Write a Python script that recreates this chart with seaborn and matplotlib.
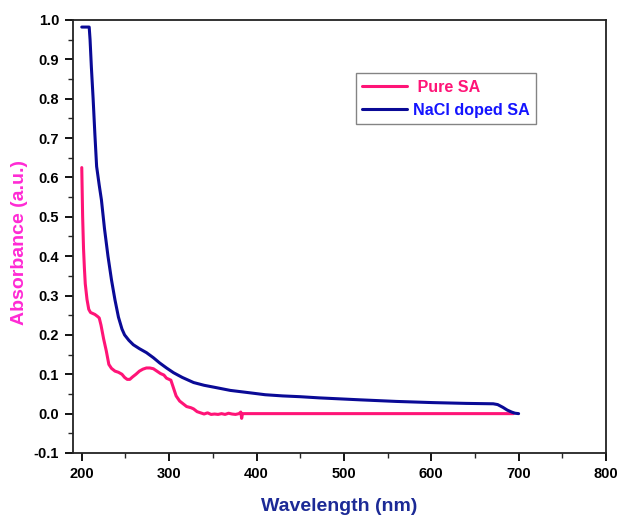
import matplotlib
matplotlib.use("Agg")
import matplotlib.pyplot as plt
from matplotlib.ticker import MultipleLocator, FormatStrFormatter
import seaborn as sns
import pandas as pd

# UV-Vis absorbance spectra
wl_pure = [200, 201, 202, 203, 204, 206, 208, 210, 212, 215, 218, 220, 222, 225, 228, 231,
           234, 238, 242, 246, 249, 252, 255, 258, 262, 266, 270, 274, 278, 282, 286, 290,
           294, 297, 300, 302, 305, 308, 312, 316, 320, 325, 328, 332, 336, 340, 344, 348,
           352, 356, 360, 364, 368, 372, 376, 380, 382, 383, 384, 390, 450, 550, 650, 694]
abs_pure = [0.625, 0.50, 0.42, 0.37, 0.33, 0.29, 0.265, 0.257, 0.255, 0.252, 0.247, 0.243,
            0.225, 0.19, 0.16, 0.125, 0.115, 0.108, 0.105, 0.100, 0.092, 0.087, 0.087, 0.093,
            0.100, 0.108, 0.113, 0.116, 0.116, 0.114, 0.108, 0.102, 0.098, 0.090, 0.087, 0.085,
            0.065, 0.045, 0.032, 0.025, 0.018, 0.015, 0.012, 0.005, 0.002, -0.001, 0.002,
            -0.002, -0.001, -0.002, 0.000, -0.002, 0.001, -0.001, -0.002, 0.000, 0.004,
            -0.012, 0.000, 0.0, 0.0, 0.0, 0.0, 0.0]

wl_nacl = [200, 208.5, 209.5, 211, 213, 215, 217, 220, 222.5, 226, 230, 234, 238, 242, 246,
           249, 254, 259, 266, 274, 282, 289, 297, 305, 315, 328, 340, 354, 370, 392, 410,
           430, 450, 472, 519, 560, 602, 640, 671, 676, 682, 687, 692, 696, 700]
abs_nacl = [0.982, 0.982, 0.95, 0.88, 0.80, 0.71, 0.628, 0.58, 0.543, 0.47, 0.40, 0.34,
            0.289, 0.245, 0.215, 0.200, 0.186, 0.175, 0.165, 0.155, 0.142, 0.129, 0.116,
            0.104, 0.092, 0.079, 0.072, 0.066, 0.059, 0.053, 0.048, 0.045, 0.043, 0.040,
            0.035, 0.031, 0.028, 0.026, 0.025, 0.023, 0.016, 0.009, 0.004, 0.001, 0.0]

series_names = ["Pure SA", "NaCl doped SA"]
line_colors = ["#ff1477", "#0a0a96"]
text_colors = ["#ff1477", "#1414ff"]

df = pd.concat([
    pd.DataFrame({"Wavelength": wl_pure, "Absorbance": abs_pure, "Sample": series_names[0]}),
    pd.DataFrame({"Wavelength": wl_nacl, "Absorbance": abs_nacl, "Sample": series_names[1]}),
])

sns.set_style("ticks")
plt.rcParams["font.family"] = ["Liberation Sans", "DejaVu Sans"]
plt.rcParams["font.weight"] = "bold"

fig = plt.figure(figsize=(6.21, 5.15), dpi=100)
ax = fig.add_axes([0.1176, 0.1204, 0.8582, 0.8408])

sns.lineplot(data=df, x="Wavelength", y="Absorbance", hue="Sample",
             palette=dict(zip(series_names, line_colors)), linewidth=2.2,
             sort=False, estimator=None, ax=ax)

ax.set_xlim(190, 800)
ax.set_ylim(-0.1, 1.0)
ax.xaxis.set_major_locator(MultipleLocator(100))
ax.xaxis.set_minor_locator(MultipleLocator(50))
ax.yaxis.set_major_locator(MultipleLocator(0.1))
ax.yaxis.set_minor_locator(MultipleLocator(0.05))
ax.yaxis.set_major_formatter(FormatStrFormatter("%.1f"))

ax.tick_params(axis="both", which="major", direction="out", length=6, width=1.3,
               labelsize=10.5, colors="black", pad=4)
ax.tick_params(axis="both", which="minor", direction="out", length=3.5, width=1.0)
for lbl in ax.get_xticklabels() + ax.get_yticklabels():
    lbl.set_fontweight("bold")
for sp in ax.spines.values():
    sp.set_linewidth(1.3)
    sp.set_color("#222222")

ax.set_xlabel("Wavelength (nm)", fontsize=14, fontweight="bold", color="#1c2a96")
ax.set_ylabel("Absorbance (a.u.)", fontsize=14, fontweight="bold", color="#ff2ad4")
ax.xaxis.set_label_coords(0.5, -0.105)
ax.yaxis.set_label_coords(-0.085, 0.485)

handles, labels = ax.get_legend_handles_labels()
leg = ax.legend(handles, [" " + series_names[0], series_names[1]], loc="upper left",
                bbox_to_anchor=(0.531, 0.877), frameon=True, fancybox=False,
                edgecolor="#666666", fontsize=11.6, handlelength=2.75, handletextpad=0.4,
                borderpad=0.4, labelspacing=0.5, borderaxespad=0)
leg.get_frame().set_linewidth(1.0)
for txt, c in zip(leg.get_texts(), text_colors):
    txt.set_color(c)
    txt.set_fontweight("bold")

fig.savefig("out.png", dpi=100)
